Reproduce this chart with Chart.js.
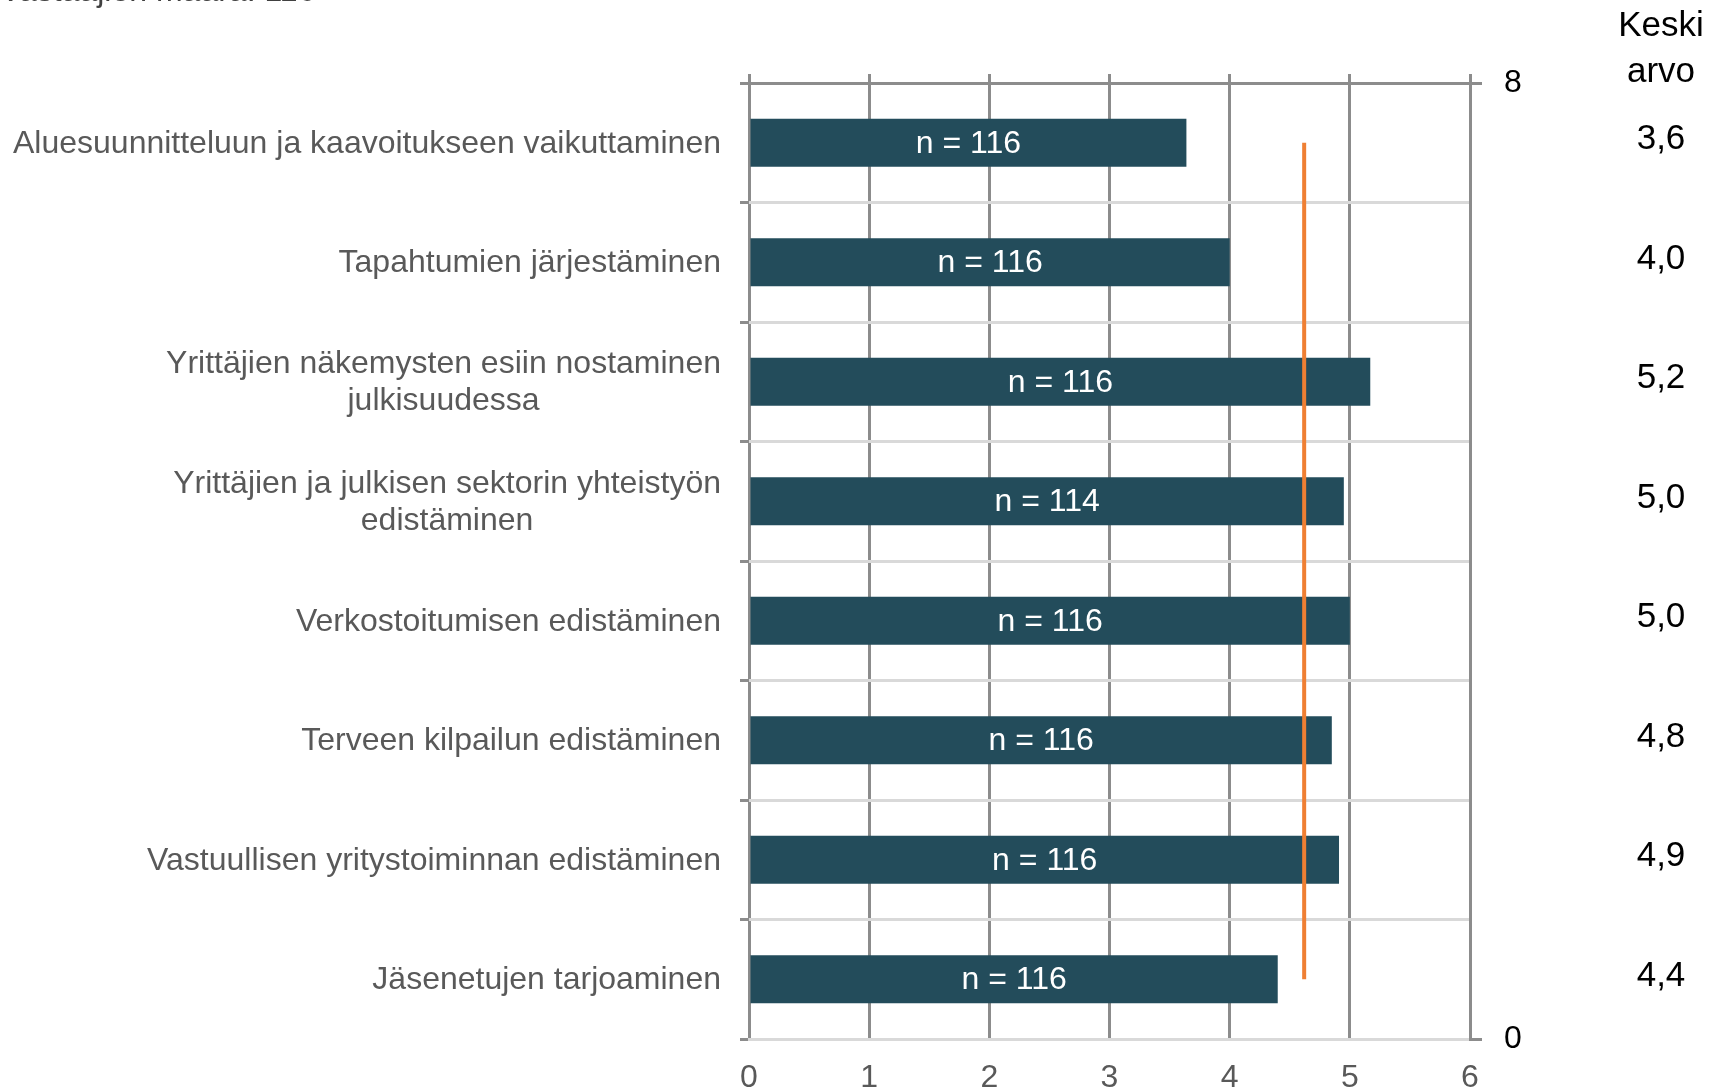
<!DOCTYPE html>
<html>
<head>
<meta charset="utf-8">
<script src="https://cdn.jsdelivr.net/npm/chart.js@4/dist/chart.umd.min.js"></script>
<style>
  body { margin: 0; background: #fff; }
  #wrap { width: 1714px; height: 1092px; }
</style>
</head>
<body>
<div id="wrap"><canvas id="chart" width="1714" height="1092"></canvas></div>
<script>
// Data
const categories = [
  ['Aluesuunnitteluun ja kaavoitukseen vaikuttaminen'],
  ['Tapahtumien järjestäminen'],
  ['Yrittäjien näkemysten esiin nostaminen', 'julkisuudessa'],
  ['Yrittäjien ja julkisen sektorin yhteistyön', 'edistäminen'],
  ['Verkostoitumisen edistäminen'],
  ['Terveen kilpailun edistäminen'],
  ['Vastuullisen yritystoiminnan edistäminen'],
  ['Jäsenetujen tarjoaminen']
];
const averages = [3.64, 4.0, 5.17, 4.95, 5.0, 4.85, 4.91, 4.4];
const counts = [116, 116, 116, 114, 116, 116, 116, 116];
const averageLabels = ['3,6', '4,0', '5,2', '5,0', '5,0', '4,8', '4,9', '4,4'];
const overallAverage = 4.62;
const overallLineY = [0.5, 7.5];   // secondary axis 0..8
const xTicks = [0, 1, 2, 3, 4, 5, 6];
const rightTicks = [0, 8];
const title = 'Vastaajien määrä: 116';
const columnHeader = ['Keski', 'arvo'];

const FONT = "'Liberation Sans', Arial, sans-serif";
const DARK_GRID = '#8c8c8c';
const LIGHT_GRID = '#d9d9d9';

// omat tekstit: kategoriat, n-arvot, keskiarvot
const textPlugin = {
  id: 'textPlugin',
  afterDraw(chart) {
    const ctx = chart.ctx;
    const yScale = chart.scales.y;
    ctx.save();

    // category labels: block right aligned, lines centred in block
    ctx.font = `32px ${FONT}`;
    ctx.fillStyle = '#595959';
    ctx.textAlign = 'center';
    ctx.textBaseline = 'middle';
    const lineH = 37;
    categories.forEach((lines, i) => {
      const cy = yScale.getPixelForValue(i) + 1;
      const w = Math.max(...lines.map(l => ctx.measureText(l).width));
      const cx = 721 - w / 2;
      const y0 = cy - (lines.length - 1) * lineH / 2;
      lines.forEach((l, j) => ctx.fillText(l, cx, y0 + j * lineH));
    });

    // n = ... inside the bars
    const meta = chart.getDatasetMeta(1);
    ctx.fillStyle = '#ffffff';
    meta.data.forEach((bar, i) => {
      ctx.fillText('n = ' + counts[i], (bar.x + bar.base) / 2, bar.y + 1);
    });

    // average column
    ctx.font = `35px ${FONT}`;
    ctx.fillStyle = '#000000';
    averageLabels.forEach((t, i) => {
      ctx.fillText(t, 1661, yScale.getPixelForValue(i) - 3);
    });
    ctx.fillText(columnHeader[0], 1661, 26);
    ctx.fillText(columnHeader[1], 1661, 72);

    // title, mostly cut off at the top
    ctx.font = `32px ${FONT}`;
    ctx.fillStyle = '#404040';
    ctx.textAlign = 'left';
    ctx.textBaseline = 'alphabetic';
    ctx.fillText(title, 0, 1);

    ctx.restore();
  }
};

new Chart(document.getElementById('chart'), {
  type: 'bar',
  data: {
    labels: categories.map(c => c.join(' ')),
    datasets: [
      {
        type: 'line',
        label: 'Keskiarvo',
        data: overallLineY.map(y => ({ x: overallAverage, y: y })),
        xAxisID: 'x',
        yAxisID: 'y2',
        borderColor: '#ef7f33',
        borderWidth: 4,
        pointRadius: 0,
        order: 0
      },
      {
        type: 'bar',
        label: 'Keskiarvo',
        indexAxis: 'y',
        data: averages,
        xAxisID: 'x',
        yAxisID: 'y',
        backgroundColor: '#234c5b',
        categoryPercentage: 1,
        barPercentage: 0.4,
        order: 1
      }
    ]
  },
  options: {
    responsive: false,
    animation: false,
    layout: { padding: 0 },
    plugins: {
      legend: { display: false },
      tooltip: { enabled: false }
    },
    scales: {
      x: {
        type: 'linear',
        position: 'bottom',
        offset: false,
        min: 0,
        max: 6,
        afterBuildTicks: s => { s.ticks = xTicks.map(v => ({ value: v })); },
        afterFit: s => { s.height = 53; },
        ticks: {
          color: '#595959',
          font: { family: FONT, size: 32 },
          padding: 20
        },
        grid: {
          offset: false,
          color: DARK_GRID,
          lineWidth: 3,
          drawTicks: false
        },
        border: { color: LIGHT_GRID, width: 3 }
      },
      x2: {
        type: 'linear',
        position: 'top',
        offset: false,
        min: 0,
        max: 6,
        afterBuildTicks: s => { s.ticks = xTicks.map(v => ({ value: v })); },
        afterFit: s => { s.height = 83; },
        ticks: { display: false },
        grid: {
          offset: false,
          drawOnChartArea: false,
          tickLength: 9,
          tickColor: DARK_GRID,
          lineWidth: 3
        },
        border: { display: false }
      },
      y: {
        type: 'category',
        position: 'left',
        afterFit: s => { s.width = 749; },
        ticks: { display: false },
        grid: {
          offset: true,
          color: c => (c.index === 0 ? DARK_GRID : LIGHT_GRID),
          lineWidth: 3,
          tickLength: 9,
          tickColor: DARK_GRID
        },
        border: { display: false }
      },
      y2: {
        type: 'linear',
        position: 'right',
        min: 0,
        max: 8,
        afterBuildTicks: s => { s.ticks = rightTicks.map(v => ({ value: v })); },
        afterFit: s => { s.width = 244; },
        ticks: {
          color: '#000000',
          font: { family: FONT, size: 32 },
          padding: 22
        },
        grid: {
          color: c => (c.tick && c.tick.value === 8 ? DARK_GRID : LIGHT_GRID),
          lineWidth: 3,
          tickLength: 12,
          tickColor: DARK_GRID
        },
        border: { color: DARK_GRID, width: 3 }
      }
    }
  },
  plugins: [textPlugin]
});
</script>
</body>
</html>
